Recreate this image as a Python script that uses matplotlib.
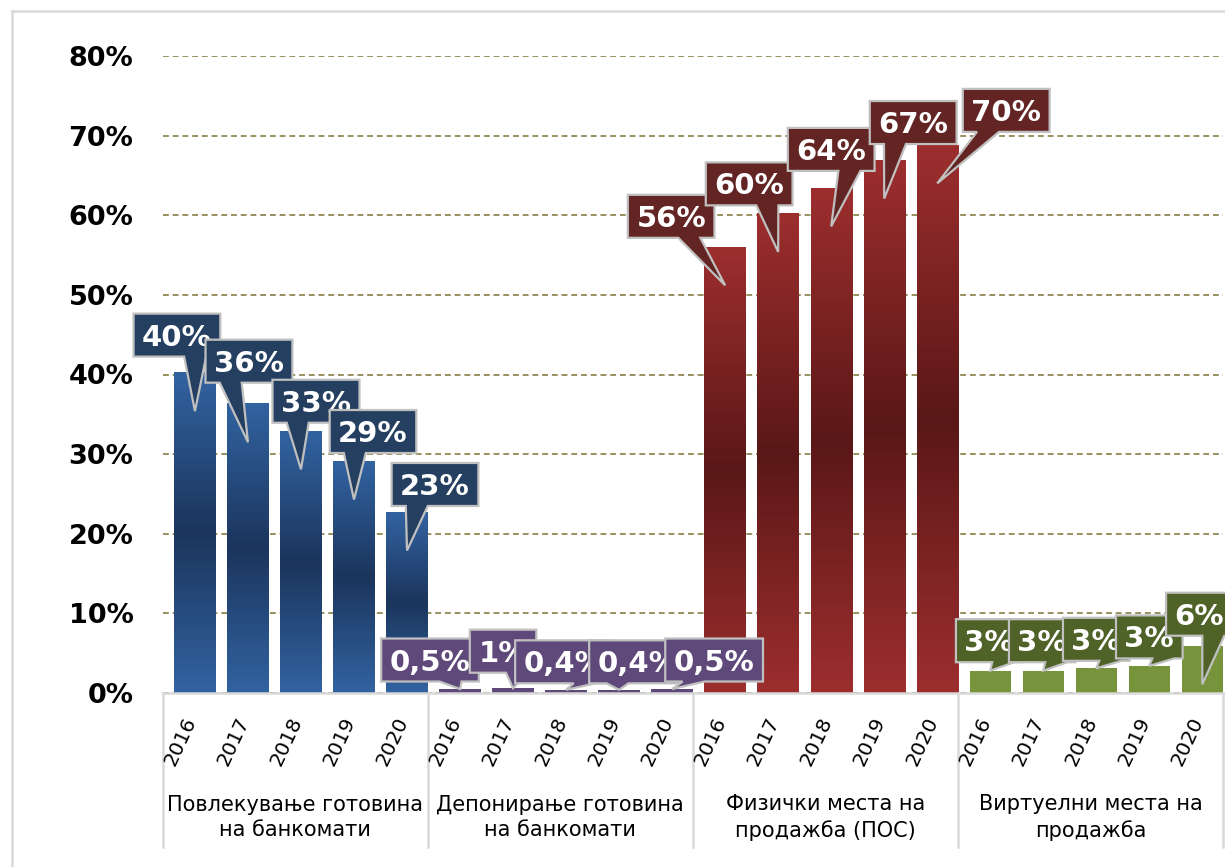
import numpy as np
import matplotlib
matplotlib.use('Agg')
import matplotlib.pyplot as plt
import matplotlib.transforms as mtransforms
from matplotlib.patches import Polygon
from matplotlib.lines import Line2D
from matplotlib.colors import to_rgb

# Податоци (процент од трансакциите)
godini = ['2016', '2017', '2018', '2019', '2020']
kategorii = ['Повлекување готовина\nна банкомати',
             'Депонирање готовина\nна банкомати',
             'Физички места на\nпродажба (ПОС)',
             'Виртуелни места на\nпродажба']
povlekuvanje = [40.2, 36.3, 32.9, 29.1, 22.7]
deponiranje = [0.5, 0.6, 0.4, 0.4, 0.5]
fizicki_pos = [56.0, 60.2, 63.4, 66.9, 68.8]
virtuelni = [2.8, 2.8, 3.1, 3.4, 5.9]
oznaki_povlekuvanje = ['40%', '36%', '33%', '29%', '23%']
oznaki_deponiranje = ['0,5%', '1%', '0,4%', '0,4%', '0,5%']
oznaki_pos = ['56%', '60%', '64%', '67%', '70%']
oznaki_virtuelni = ['3%', '3%', '3%', '3%', '6%']
y_tikovi = [0, 10, 20, 30, 40, 50, 60, 70, 80]

# Поместување на етикетите (пиксели, центар на кутијата во однос на врвот)
pomestuvanja = [
    [(-18, 76), (1, 81), (15, 68), (19, 68), (28, 66)],
    [(-30, 29), (-10, 37), (-2, 28), (19, 28), (42, 29)],
    [(-54, 69), (-29, 68), (0, 77), (29, 76), (69, 73)],
    [(-1, 30), (-1, 30), (0, 29), (0, 29), (-3, 70)],
]

serii = [povlekuvanje, deponiranje, fizicki_pos, virtuelni]
oznaki = [oznaki_povlekuvanje, oznaki_deponiranje, oznaki_pos, oznaki_virtuelni]
# (боја на раб, боја во средина) за столбовите; None = без градиент
boi_stolbovi = [('#3263a1', '#1b355c'), ('#5f497a', None),
                ('#9d2e2e', '#5a1717'), ('#77933c', None)]
boi_kutii = ['#243f60', '#5f497a', '#632523', '#4f6228']

plt.rcParams['font.family'] = ['DejaVu Sans']

fig = plt.figure(figsize=(12.25, 8.67), dpi=100)
ax = fig.add_axes([162.6 / 1225, 174 / 867, (1223 - 162.6) / 1225, 637 / 867])

n_god = len(godini)
stolbovi = []
for g, vrednosti in enumerate(serii):
    xs = [g * n_god + i + 0.11 for i in range(n_god)]
    rab, sredina = boi_stolbovi[g]
    bars = ax.bar(xs, vrednosti, width=0.78, color=rab, zorder=2, linewidth=0)
    if sredina is not None:
        c_rab = np.array(to_rgb(rab))
        c_sr = np.array(to_rgb(sredina))
        v = np.linspace(0, 1, 256)
        f = 1 - np.abs(2 * v - 1)
        grad = c_rab[None, :] + (c_sr - c_rab)[None, :] * f[:, None]
        for b in bars:
            x0 = b.get_x()
            ax.imshow(grad[:, None, :], extent=[x0, x0 + b.get_width(), 0, b.get_height()],
                      aspect='auto', origin='lower', interpolation='bilinear', zorder=2.1)
    stolbovi.append(bars)

ax.set_xlim(-0.5, 4 * n_god - 0.5)
ax.set_ylim(0, 80)

# Мрежа и оски
ax.set_yticks(y_tikovi)
ax.set_yticklabels([f'{v}%' for v in y_tikovi], fontsize=19.5, fontweight='bold')
ax.tick_params(axis='y', length=0, pad=21)
ax.set_xticks([])
ax.yaxis.grid(True, color='#9a9060', linestyle=(0, (3, 2)), linewidth=1.4)
ax.set_axisbelow(True)
for s in ['left', 'right', 'top']:
    ax.spines[s].set_visible(False)
ax.spines['bottom'].set_color('#d9d9d9')
ax.spines['bottom'].set_linewidth(1.8)

# Години и категории под оската
xtr = ax.get_xaxis_transform()
for g in range(4):
    for i, god in enumerate(godini):
        ax.text(g * n_god + i - 0.17, -0.0754, god, transform=xtr, rotation=65,
                ha='center', va='center', fontsize=14.5, clip_on=False)
    ax.text(g * n_god + 2, -0.1954, kategorii[g], transform=xtr, ha='center',
            va='center', fontsize=15, linespacing=1.35, clip_on=False)
for g in range(5):
    ax.plot([g * n_god - 0.5] * 2, [0, -0.2418], transform=xtr, color='#d9d9d9',
            lw=1.8, clip_on=False, zorder=1)

# Етикети со облачиња
renderer = fig.canvas.get_renderer()
z = 10
for g, vrednosti in enumerate(serii):
    for i, v in enumerate(vrednosti):
        b = stolbovi[g][i]
        tx = b.get_x() + b.get_width() / 2
        ty = v - 4.8 if v >= 5 else v
        dx, dy = pomestuvanja[g][i]
        t = ax.annotate(oznaki[g][i], xy=(tx, ty), xytext=(dx, dy - 10.5),
                        textcoords='offset pixels', ha='center', va='baseline',
                        color='white', fontsize=21, fontweight='bold',
                        zorder=z + 1, annotation_clip=False)
        w = t.get_window_extent(renderer).width + 17
        h = 43
        L, R = dx - w / 2, dx + w / 2
        B, T = dy - h / 2, dy + h / 2
        f = 0.29 if abs(L + 0.29 * w) < abs(L + 0.71 * w) else 0.71
        bc = L + f * w
        verts = [(L, B), (bc - 11, B), (0, 0), (bc + 11, B), (R, B), (R, T), (L, T)]
        trans = mtransforms.Affine2D() + mtransforms.ScaledTranslation(tx, ty, ax.transData)
        p = Polygon(verts, closed=True, transform=trans, facecolor=boi_kutii[g],
                    edgecolor='#c0c0c0', linewidth=1.6, zorder=z, clip_on=False)
        ax.add_patch(p)
        z += 2

# Рамка на графикот
fig.add_artist(Line2D([12 / 1225, 12 / 1225], [0, 1 - 11 / 867], color='#d9d9d9', lw=1.8))
fig.add_artist(Line2D([12 / 1225, 1], [1 - 11 / 867, 1 - 11 / 867], color='#d9d9d9', lw=1.8))

fig.savefig('out.png', dpi=100)
